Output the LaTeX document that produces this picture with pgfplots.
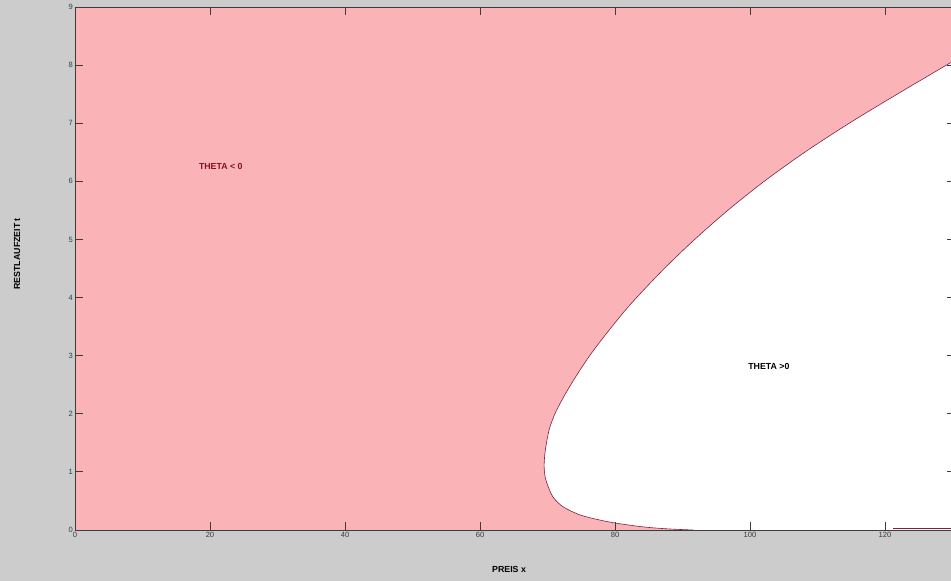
\documentclass[border=0pt]{standalone}
\usepackage{fontspec}
\setmainfont{Liberation Sans}
\usepackage{pgfplots}
\pgfplotsset{compat=1.18}
\definecolor{bggray}{RGB}{204,204,204}
\definecolor{pinkc}{RGB}{250,180,184}
\definecolor{axgray}{RGB}{60,60,60}
\definecolor{curvec}{RGB}{130,30,55}
\definecolor{labred}{RGB}{135,15,40}
\pgfplotstableread{
x y
130.4 8.09
129.1 8.0
121.8 7.5
114.7 7.0
108.1 6.5
102.1 6.0
96.7 5.5
91.8 5.0
87.3 4.5
83.2 4.0
81.3 3.75
79.55 3.5
77.85 3.25
76.25 3.0
74.8 2.75
73.45 2.5
72.2 2.25
71.1 2.0
70.3 1.75
69.85 1.5
69.6 1.3
69.5 1.1
69.6 0.95
69.9 0.81
70.8 0.57
72.3 0.40
74.8 0.26
77.8 0.17
80.3 0.115
83.7 0.06
85.9 0.035
88.5 0.015
91.6 0.0
}\boundary
\begin{document}
\begin{tikzpicture}
\fill[bggray] (0,0) rectangle (951pt,581pt);
\begin{axis}[
  at={(75pt,51pt)}, anchor=south west,
  scale only axis, width=880.2pt, height=523pt,
  xmin=0, xmax=130.4, ymin=0, ymax=9,
  axis background/.style={fill=pinkc},
  axis line style={axgray, line width=0.9pt},
  axis on top,
  xtick={0,20,...,120}, ytick={0,1,...,9},
  major tick length=8pt,
  tick style={axgray, line width=0.8pt},
  tick align=inside,
  /pgf/number format/assume math mode=true,
  tick label style={font=\fontsize{7.6}{9}\selectfont, text=axgray},
  xticklabel style={inner sep=2pt},
  yticklabel style={inner sep=2pt},
  xlabel={PREIS x}, ylabel={RESTLAUFZEIT t},
  label style={font=\fontsize{8.8}{10}\selectfont\bfseries},
  xlabel style={at={(axis description cs:0.4931,0)}, anchor=center, yshift=-39pt},
  ylabel style={at={(axis description cs:-0.0659,0.528)}, anchor=center},
]
\addplot[draw=none, fill=white, smooth, tension=0.5] table {\boundary} \closedcycle;
\addplot[draw=curvec, line width=0.6pt, smooth, tension=0.5] table {\boundary};
\addplot[draw=curvec, line width=0.9pt] coordinates {(121.2,0.02) (130.4,0.02)};
\node[font=\fontsize{8.8}{10}\selectfont\bfseries, text=labred] at (axis cs:21.6,6.26) {THETA < 0};
\node[font=\fontsize{8.8}{10}\selectfont\bfseries, text=black] at (axis cs:102.8,2.82) {THETA >0};
\end{axis}
\pgfresetboundingbox
\path (0,0) rectangle (951pt,581pt);
\end{tikzpicture}
\end{document}
